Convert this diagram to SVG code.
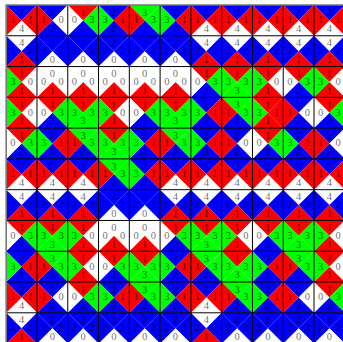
<svg xmlns="http://www.w3.org/2000/svg" xmlns:xlink="http://www.w3.org/1999/xlink" width="343" height="342" viewBox="0 0 343 342">
<style>
.c0{fill:#fff}.c1{fill:#f00}.c2{fill:#00f}.c3{fill:#0f0}
text{font-family:"Liberation Serif","DejaVu Serif",serif;font-size:10.5px;fill:#000;fill-opacity:.6;text-anchor:middle;dominant-baseline:central}
.grid line{stroke:#000;stroke-width:1}
.outer{stroke:#777;stroke-width:1.6;fill:none}
</style>
<defs>
<path id="n" d="M0 0H30.78L15.39 15.39Z"/>
<path id="e" d="M30.78 0V30.78L15.39 15.39Z"/>
<path id="s" d="M0 30.78H30.78L15.39 15.39Z"/>
<path id="w" d="M0 0V30.78L15.39 15.39Z"/>
<g id="A"><use href="#n" class="c2"/><use href="#e" class="c1"/><use href="#s" class="c0"/><use href="#w" class="c1"/></g>
<g id="B"><use href="#n" class="c2"/><use href="#e" class="c0"/><use href="#s" class="c2"/><use href="#w" class="c1"/></g>
<g id="C"><use href="#n" class="c1"/><use href="#e" class="c3"/><use href="#s" class="c2"/><use href="#w" class="c0"/></g>
<g id="D"><use href="#n" class="c2"/><use href="#e" class="c1"/><use href="#s" class="c2"/><use href="#w" class="c3"/></g>
<g id="E"><use href="#n" class="c3"/><use href="#e" class="c3"/><use href="#s" class="c2"/><use href="#w" class="c1"/></g>
<g id="F"><use href="#n" class="c0"/><use href="#e" class="c2"/><use href="#s" class="c1"/><use href="#w" class="c2"/></g>
<g id="G"><use href="#n" class="c2"/><use href="#e" class="c2"/><use href="#s" class="c0"/><use href="#w" class="c2"/></g>
<g id="H"><use href="#n" class="c1"/><use href="#e" class="c0"/><use href="#s" class="c1"/><use href="#w" class="c3"/></g>
<g id="I"><use href="#n" class="c0"/><use href="#e" class="c0"/><use href="#s" class="c1"/><use href="#w" class="c0"/></g>
<g id="J"><use href="#n" class="c1"/><use href="#e" class="c3"/><use href="#s" class="c3"/><use href="#w" class="c3"/></g>
<g id="L"><use href="#n" class="c1"/><use href="#e" class="c1"/><use href="#s" class="c1"/><use href="#w" class="c3"/></g>
</defs>
<rect width="343" height="342" fill="#fff"/>
<g id="tiles">
<g id="r0c0" transform="translate(6.2,5)"><use href="#A"/><text x="15.4" y="7.2">2</text><text x="24.1" y="14.8">1</text><text x="15.4" y="23.6">4</text><text x="6.7" y="14.8">1</text></g>
<g id="r0c1" transform="translate(36.98,5)"><use href="#B"/><text x="15.4" y="7.2">2</text><text x="24.1" y="14.8">0</text><text x="15.4" y="23.6">2</text><text x="6.7" y="14.8">1</text></g>
<g id="r0c2" transform="translate(67.76,5)"><use href="#C"/><text x="15.4" y="7.2">1</text><text x="24.1" y="14.8">3</text><text x="15.4" y="23.6">2</text><text x="6.7" y="14.8">0</text></g>
<g id="r0c3" transform="translate(98.54,5)"><use href="#D"/><text x="15.4" y="7.2">2</text><text x="24.1" y="14.8">1</text><text x="15.4" y="23.6">2</text><text x="6.7" y="14.8">3</text></g>
<g id="r0c4" transform="translate(129.32,5)"><use href="#E"/><text x="15.4" y="7.2">3</text><text x="24.1" y="14.8">3</text><text x="15.4" y="23.6">2</text><text x="6.7" y="14.8">1</text></g>
<g id="r0c5" transform="translate(160.1,5)"><use href="#D"/><text x="15.4" y="7.2">2</text><text x="24.1" y="14.8">1</text><text x="15.4" y="23.6">2</text><text x="6.7" y="14.8">3</text></g>
<g id="r0c6" transform="translate(190.88,5)"><use href="#A"/><text x="15.4" y="7.2">2</text><text x="24.1" y="14.8">1</text><text x="15.4" y="23.6">4</text><text x="6.7" y="14.8">1</text></g>
<g id="r0c7" transform="translate(221.66,5)"><use href="#A"/><text x="15.4" y="7.2">2</text><text x="24.1" y="14.8">1</text><text x="15.4" y="23.6">4</text><text x="6.7" y="14.8">1</text></g>
<g id="r0c8" transform="translate(252.44,5)"><use href="#A"/><text x="15.4" y="7.2">2</text><text x="24.1" y="14.8">1</text><text x="15.4" y="23.6">4</text><text x="6.7" y="14.8">1</text></g>
<g id="r0c9" transform="translate(283.22,5)"><use href="#A"/><text x="15.4" y="7.2">2</text><text x="24.1" y="14.8">1</text><text x="15.4" y="23.6">4</text><text x="6.7" y="14.8">1</text></g>
<g id="r0c10" transform="translate(314,5)"><use href="#A"/><text x="15.4" y="7.2">2</text><text x="24.1" y="14.8">1</text><text x="15.4" y="23.6">4</text><text x="6.7" y="14.8">1</text></g>

<g id="r1c0" transform="translate(6.2,35.78)"><use href="#F"/><text x="15.4" y="7.2">4</text><text x="24.1" y="14.8">2</text><text x="15.4" y="23.6">1</text><text x="6.7" y="14.8">2</text></g>
<g id="r1c1" transform="translate(36.98,35.78)"><use href="#G"/><text x="15.4" y="7.2">2</text><text x="24.1" y="14.8">2</text><text x="15.4" y="23.6">0</text><text x="6.7" y="14.8">2</text></g>
<g id="r1c2" transform="translate(67.76,35.78)"><use href="#G"/><text x="15.4" y="7.2">2</text><text x="24.1" y="14.8">2</text><text x="15.4" y="23.6">0</text><text x="6.7" y="14.8">2</text></g>
<g id="r1c3" transform="translate(98.54,35.78)"><use href="#G"/><text x="15.4" y="7.2">2</text><text x="24.1" y="14.8">2</text><text x="15.4" y="23.6">0</text><text x="6.7" y="14.8">2</text></g>
<g id="r1c4" transform="translate(129.32,35.78)"><use href="#G"/><text x="15.4" y="7.2">2</text><text x="24.1" y="14.8">2</text><text x="15.4" y="23.6">0</text><text x="6.7" y="14.8">2</text></g>
<g id="r1c5" transform="translate(160.1,35.78)"><use href="#G"/><text x="15.4" y="7.2">2</text><text x="24.1" y="14.8">2</text><text x="15.4" y="23.6">0</text><text x="6.7" y="14.8">2</text></g>
<g id="r1c6" transform="translate(190.88,35.78)"><use href="#F"/><text x="15.4" y="7.2">4</text><text x="24.1" y="14.8">2</text><text x="15.4" y="23.6">1</text><text x="6.7" y="14.8">2</text></g>
<g id="r1c7" transform="translate(221.66,35.78)"><use href="#F"/><text x="15.4" y="7.2">4</text><text x="24.1" y="14.8">2</text><text x="15.4" y="23.6">1</text><text x="6.7" y="14.8">2</text></g>
<g id="r1c8" transform="translate(252.44,35.78)"><use href="#F"/><text x="15.4" y="7.2">4</text><text x="24.1" y="14.8">2</text><text x="15.4" y="23.6">1</text><text x="6.7" y="14.8">2</text></g>
<g id="r1c9" transform="translate(283.22,35.78)"><use href="#F"/><text x="15.4" y="7.2">4</text><text x="24.1" y="14.8">2</text><text x="15.4" y="23.6">1</text><text x="6.7" y="14.8">2</text></g>
<g id="r1c10" transform="translate(314,35.78)"><use href="#F"/><text x="15.4" y="7.2">4</text><text x="24.1" y="14.8">2</text><text x="15.4" y="23.6">1</text><text x="6.7" y="14.8">2</text></g>

<g id="r2c0" transform="translate(6.2,66.56)"><use href="#H"/><text x="15.4" y="7.2">1</text><text x="24.1" y="14.8">0</text><text x="15.4" y="23.6">1</text><text x="6.7" y="14.8">3</text></g>
<g id="r2c1" transform="translate(36.98,66.56)"><use href="#I"/><text x="15.4" y="7.2">0</text><text x="24.1" y="14.8">0</text><text x="15.4" y="23.6">1</text><text x="6.7" y="14.8">0</text></g>
<g id="r2c2" transform="translate(67.76,66.56)"><use href="#I"/><text x="15.4" y="7.2">0</text><text x="24.1" y="14.8">0</text><text x="15.4" y="23.6">1</text><text x="6.7" y="14.8">0</text></g>
<g id="r2c3" transform="translate(98.54,66.56)"><use href="#I"/><text x="15.4" y="7.2">0</text><text x="24.1" y="14.8">0</text><text x="15.4" y="23.6">1</text><text x="6.7" y="14.8">0</text></g>
<g id="r2c4" transform="translate(129.32,66.56)"><use href="#I"/><text x="15.4" y="7.2">0</text><text x="24.1" y="14.8">0</text><text x="15.4" y="23.6">1</text><text x="6.7" y="14.8">0</text></g>
<g id="r2c5" transform="translate(160.1,66.56)"><use href="#I"/><text x="15.4" y="7.2">0</text><text x="24.1" y="14.8">0</text><text x="15.4" y="23.6">1</text><text x="6.7" y="14.8">0</text></g>
<g id="r2c6" transform="translate(190.88,66.56)"><use href="#C"/><text x="15.4" y="7.2">1</text><text x="24.1" y="14.8">3</text><text x="15.4" y="23.6">2</text><text x="6.7" y="14.8">0</text></g>
<g id="r2c7" transform="translate(221.66,66.56)"><use href="#J"/><text x="15.4" y="7.2">1</text><text x="24.1" y="14.8">3</text><text x="15.4" y="23.6">3</text><text x="6.7" y="14.8">3</text></g>
<g id="r2c8" transform="translate(252.44,66.56)"><use href="#H"/><text x="15.4" y="7.2">1</text><text x="24.1" y="14.8">0</text><text x="15.4" y="23.6">1</text><text x="6.7" y="14.8">3</text></g>
<g id="r2c9" transform="translate(283.22,66.56)"><use href="#C"/><text x="15.4" y="7.2">1</text><text x="24.1" y="14.8">3</text><text x="15.4" y="23.6">2</text><text x="6.7" y="14.8">0</text></g>
<g id="r2c10" transform="translate(314,66.56)"><use href="#H"/><text x="15.4" y="7.2">1</text><text x="24.1" y="14.8">0</text><text x="15.4" y="23.6">1</text><text x="6.7" y="14.8">3</text></g>

<g id="r3c0" transform="translate(6.2,97.34)"><use href="#H"/><text x="15.4" y="7.2">1</text><text x="24.1" y="14.8">0</text><text x="15.4" y="23.6">1</text><text x="6.7" y="14.8">3</text></g>
<g id="r3c1" transform="translate(36.98,97.34)"><use href="#C"/><text x="15.4" y="7.2">1</text><text x="24.1" y="14.8">3</text><text x="15.4" y="23.6">2</text><text x="6.7" y="14.8">0</text></g>
<g id="r3c2" transform="translate(67.76,97.34)"><use href="#J"/><text x="15.4" y="7.2">1</text><text x="24.1" y="14.8">3</text><text x="15.4" y="23.6">3</text><text x="6.7" y="14.8">3</text></g>
<g id="r3c3" transform="translate(98.54,97.34)"><use href="#H"/><text x="15.4" y="7.2">1</text><text x="24.1" y="14.8">0</text><text x="15.4" y="23.6">1</text><text x="6.7" y="14.8">3</text></g>
<g id="r3c4" transform="translate(129.32,97.34)"><use href="#C"/><text x="15.4" y="7.2">1</text><text x="24.1" y="14.8">3</text><text x="15.4" y="23.6">2</text><text x="6.7" y="14.8">0</text></g>
<g id="r3c5" transform="translate(160.1,97.34)"><use href="#J"/><text x="15.4" y="7.2">1</text><text x="24.1" y="14.8">3</text><text x="15.4" y="23.6">3</text><text x="6.7" y="14.8">3</text></g>
<g id="r3c6" transform="translate(190.88,97.34)"><use href="#D"/><text x="15.4" y="7.2">2</text><text x="24.1" y="14.8">1</text><text x="15.4" y="23.6">2</text><text x="6.7" y="14.8">3</text></g>
<g id="r3c7" transform="translate(221.66,97.34)"><use href="#E"/><text x="15.4" y="7.2">3</text><text x="24.1" y="14.8">3</text><text x="15.4" y="23.6">2</text><text x="6.7" y="14.8">1</text></g>
<g id="r3c8" transform="translate(252.44,97.34)"><use href="#L"/><text x="15.4" y="7.2">1</text><text x="24.1" y="14.8">1</text><text x="15.4" y="23.6">1</text><text x="6.7" y="14.8">3</text></g>
<g id="r3c9" transform="translate(283.22,97.34)"><use href="#B"/><text x="15.4" y="7.2">2</text><text x="24.1" y="14.8">0</text><text x="15.4" y="23.6">2</text><text x="6.7" y="14.8">1</text></g>
<g id="r3c10" transform="translate(314,97.34)"><use href="#C"/><text x="15.4" y="7.2">1</text><text x="24.1" y="14.8">3</text><text x="15.4" y="23.6">2</text><text x="6.7" y="14.8">0</text></g>

<g id="r4c0" transform="translate(6.2,128.12)"><use href="#C"/><text x="15.4" y="7.2">1</text><text x="24.1" y="14.8">3</text><text x="15.4" y="23.6">2</text><text x="6.7" y="14.8">0</text></g>
<g id="r4c1" transform="translate(36.98,128.12)"><use href="#D"/><text x="15.4" y="7.2">2</text><text x="24.1" y="14.8">1</text><text x="15.4" y="23.6">2</text><text x="6.7" y="14.8">3</text></g>
<g id="r4c2" transform="translate(67.76,128.12)"><use href="#E"/><text x="15.4" y="7.2">3</text><text x="24.1" y="14.8">3</text><text x="15.4" y="23.6">2</text><text x="6.7" y="14.8">1</text></g>
<g id="r4c3" transform="translate(98.54,128.12)"><use href="#J"/><text x="15.4" y="7.2">1</text><text x="24.1" y="14.8">3</text><text x="15.4" y="23.6">3</text><text x="6.7" y="14.8">3</text></g>
<g id="r4c4" transform="translate(129.32,128.12)"><use href="#D"/><text x="15.4" y="7.2">2</text><text x="24.1" y="14.8">1</text><text x="15.4" y="23.6">2</text><text x="6.7" y="14.8">3</text></g>
<g id="r4c5" transform="translate(160.1,128.12)"><use href="#E"/><text x="15.4" y="7.2">3</text><text x="24.1" y="14.8">3</text><text x="15.4" y="23.6">2</text><text x="6.7" y="14.8">1</text></g>
<g id="r4c6" transform="translate(190.88,128.12)"><use href="#D"/><text x="15.4" y="7.2">2</text><text x="24.1" y="14.8">1</text><text x="15.4" y="23.6">2</text><text x="6.7" y="14.8">3</text></g>
<g id="r4c7" transform="translate(221.66,128.12)"><use href="#B"/><text x="15.4" y="7.2">2</text><text x="24.1" y="14.8">0</text><text x="15.4" y="23.6">2</text><text x="6.7" y="14.8">1</text></g>
<g id="r4c8" transform="translate(252.44,128.12)"><use href="#C"/><text x="15.4" y="7.2">1</text><text x="24.1" y="14.8">3</text><text x="15.4" y="23.6">2</text><text x="6.7" y="14.8">0</text></g>
<g id="r4c9" transform="translate(283.22,128.12)"><use href="#D"/><text x="15.4" y="7.2">2</text><text x="24.1" y="14.8">1</text><text x="15.4" y="23.6">2</text><text x="6.7" y="14.8">3</text></g>
<g id="r4c10" transform="translate(314,128.12)"><use href="#B"/><text x="15.4" y="7.2">2</text><text x="24.1" y="14.8">0</text><text x="15.4" y="23.6">2</text><text x="6.7" y="14.8">1</text></g>

<g id="r5c0" transform="translate(6.2,158.9)"><use href="#A"/><text x="15.4" y="7.2">2</text><text x="24.1" y="14.8">1</text><text x="15.4" y="23.6">4</text><text x="6.7" y="14.8">1</text></g>
<g id="r5c1" transform="translate(36.98,158.9)"><use href="#A"/><text x="15.4" y="7.2">2</text><text x="24.1" y="14.8">1</text><text x="15.4" y="23.6">4</text><text x="6.7" y="14.8">1</text></g>
<g id="r5c2" transform="translate(67.76,158.9)"><use href="#A"/><text x="15.4" y="7.2">2</text><text x="24.1" y="14.8">1</text><text x="15.4" y="23.6">4</text><text x="6.7" y="14.8">1</text></g>
<g id="r5c3" transform="translate(98.54,158.9)"><use href="#E"/><text x="15.4" y="7.2">3</text><text x="24.1" y="14.8">3</text><text x="15.4" y="23.6">2</text><text x="6.7" y="14.8">1</text></g>
<g id="r5c4" transform="translate(129.32,158.9)"><use href="#D"/><text x="15.4" y="7.2">2</text><text x="24.1" y="14.8">1</text><text x="15.4" y="23.6">2</text><text x="6.7" y="14.8">3</text></g>
<g id="r5c5" transform="translate(160.1,158.9)"><use href="#A"/><text x="15.4" y="7.2">2</text><text x="24.1" y="14.8">1</text><text x="15.4" y="23.6">4</text><text x="6.7" y="14.8">1</text></g>
<g id="r5c6" transform="translate(190.88,158.9)"><use href="#A"/><text x="15.4" y="7.2">2</text><text x="24.1" y="14.8">1</text><text x="15.4" y="23.6">4</text><text x="6.7" y="14.8">1</text></g>
<g id="r5c7" transform="translate(221.66,158.9)"><use href="#A"/><text x="15.4" y="7.2">2</text><text x="24.1" y="14.8">1</text><text x="15.4" y="23.6">4</text><text x="6.7" y="14.8">1</text></g>
<g id="r5c8" transform="translate(252.44,158.9)"><use href="#A"/><text x="15.4" y="7.2">2</text><text x="24.1" y="14.8">1</text><text x="15.4" y="23.6">4</text><text x="6.7" y="14.8">1</text></g>
<g id="r5c9" transform="translate(283.22,158.9)"><use href="#A"/><text x="15.4" y="7.2">2</text><text x="24.1" y="14.8">1</text><text x="15.4" y="23.6">4</text><text x="6.7" y="14.8">1</text></g>
<g id="r5c10" transform="translate(314,158.9)"><use href="#A"/><text x="15.4" y="7.2">2</text><text x="24.1" y="14.8">1</text><text x="15.4" y="23.6">4</text><text x="6.7" y="14.8">1</text></g>

<g id="r6c0" transform="translate(6.2,189.68)"><use href="#F"/><text x="15.4" y="7.2">4</text><text x="24.1" y="14.8">2</text><text x="15.4" y="23.6">1</text><text x="6.7" y="14.8">2</text></g>
<g id="r6c1" transform="translate(36.98,189.68)"><use href="#F"/><text x="15.4" y="7.2">4</text><text x="24.1" y="14.8">2</text><text x="15.4" y="23.6">1</text><text x="6.7" y="14.8">2</text></g>
<g id="r6c2" transform="translate(67.76,189.68)"><use href="#F"/><text x="15.4" y="7.2">4</text><text x="24.1" y="14.8">2</text><text x="15.4" y="23.6">1</text><text x="6.7" y="14.8">2</text></g>
<g id="r6c3" transform="translate(98.54,189.68)"><use href="#G"/><text x="15.4" y="7.2">2</text><text x="24.1" y="14.8">2</text><text x="15.4" y="23.6">0</text><text x="6.7" y="14.8">2</text></g>
<g id="r6c4" transform="translate(129.32,189.68)"><use href="#G"/><text x="15.4" y="7.2">2</text><text x="24.1" y="14.8">2</text><text x="15.4" y="23.6">0</text><text x="6.7" y="14.8">2</text></g>
<g id="r6c5" transform="translate(160.1,189.68)"><use href="#F"/><text x="15.4" y="7.2">4</text><text x="24.1" y="14.8">2</text><text x="15.4" y="23.6">1</text><text x="6.7" y="14.8">2</text></g>
<g id="r6c6" transform="translate(190.88,189.68)"><use href="#F"/><text x="15.4" y="7.2">4</text><text x="24.1" y="14.8">2</text><text x="15.4" y="23.6">1</text><text x="6.7" y="14.8">2</text></g>
<g id="r6c7" transform="translate(221.66,189.68)"><use href="#F"/><text x="15.4" y="7.2">4</text><text x="24.1" y="14.8">2</text><text x="15.4" y="23.6">1</text><text x="6.7" y="14.8">2</text></g>
<g id="r6c8" transform="translate(252.44,189.68)"><use href="#F"/><text x="15.4" y="7.2">4</text><text x="24.1" y="14.8">2</text><text x="15.4" y="23.6">1</text><text x="6.7" y="14.8">2</text></g>
<g id="r6c9" transform="translate(283.22,189.68)"><use href="#F"/><text x="15.4" y="7.2">4</text><text x="24.1" y="14.8">2</text><text x="15.4" y="23.6">1</text><text x="6.7" y="14.8">2</text></g>
<g id="r6c10" transform="translate(314,189.68)"><use href="#F"/><text x="15.4" y="7.2">4</text><text x="24.1" y="14.8">2</text><text x="15.4" y="23.6">1</text><text x="6.7" y="14.8">2</text></g>

<g id="r7c0" transform="translate(6.2,220.46)"><use href="#C"/><text x="15.4" y="7.2">1</text><text x="24.1" y="14.8">3</text><text x="15.4" y="23.6">2</text><text x="6.7" y="14.8">0</text></g>
<g id="r7c1" transform="translate(36.98,220.46)"><use href="#J"/><text x="15.4" y="7.2">1</text><text x="24.1" y="14.8">3</text><text x="15.4" y="23.6">3</text><text x="6.7" y="14.8">3</text></g>
<g id="r7c2" transform="translate(67.76,220.46)"><use href="#H"/><text x="15.4" y="7.2">1</text><text x="24.1" y="14.8">0</text><text x="15.4" y="23.6">1</text><text x="6.7" y="14.8">3</text></g>
<g id="r7c3" transform="translate(98.54,220.46)"><use href="#I"/><text x="15.4" y="7.2">0</text><text x="24.1" y="14.8">0</text><text x="15.4" y="23.6">1</text><text x="6.7" y="14.8">0</text></g>
<g id="r7c4" transform="translate(129.32,220.46)"><use href="#I"/><text x="15.4" y="7.2">0</text><text x="24.1" y="14.8">0</text><text x="15.4" y="23.6">1</text><text x="6.7" y="14.8">0</text></g>
<g id="r7c5" transform="translate(160.1,220.46)"><use href="#C"/><text x="15.4" y="7.2">1</text><text x="24.1" y="14.8">3</text><text x="15.4" y="23.6">2</text><text x="6.7" y="14.8">0</text></g>
<g id="r7c6" transform="translate(190.88,220.46)"><use href="#J"/><text x="15.4" y="7.2">1</text><text x="24.1" y="14.8">3</text><text x="15.4" y="23.6">3</text><text x="6.7" y="14.8">3</text></g>
<g id="r7c7" transform="translate(221.66,220.46)"><use href="#H"/><text x="15.4" y="7.2">1</text><text x="24.1" y="14.8">0</text><text x="15.4" y="23.6">1</text><text x="6.7" y="14.8">3</text></g>
<g id="r7c8" transform="translate(252.44,220.46)"><use href="#C"/><text x="15.4" y="7.2">1</text><text x="24.1" y="14.8">3</text><text x="15.4" y="23.6">2</text><text x="6.7" y="14.8">0</text></g>
<g id="r7c9" transform="translate(283.22,220.46)"><use href="#J"/><text x="15.4" y="7.2">1</text><text x="24.1" y="14.8">3</text><text x="15.4" y="23.6">3</text><text x="6.7" y="14.8">3</text></g>
<g id="r7c10" transform="translate(314,220.46)"><use href="#H"/><text x="15.4" y="7.2">1</text><text x="24.1" y="14.8">0</text><text x="15.4" y="23.6">1</text><text x="6.7" y="14.8">3</text></g>

<g id="r8c0" transform="translate(6.2,251.24)"><use href="#D"/><text x="15.4" y="7.2">2</text><text x="24.1" y="14.8">1</text><text x="15.4" y="23.6">2</text><text x="6.7" y="14.8">3</text></g>
<g id="r8c1" transform="translate(36.98,251.24)"><use href="#E"/><text x="15.4" y="7.2">3</text><text x="24.1" y="14.8">3</text><text x="15.4" y="23.6">2</text><text x="6.7" y="14.8">1</text></g>
<g id="r8c2" transform="translate(67.76,251.24)"><use href="#H"/><text x="15.4" y="7.2">1</text><text x="24.1" y="14.8">0</text><text x="15.4" y="23.6">1</text><text x="6.7" y="14.8">3</text></g>
<g id="r8c3" transform="translate(98.54,251.24)"><use href="#C"/><text x="15.4" y="7.2">1</text><text x="24.1" y="14.8">3</text><text x="15.4" y="23.6">2</text><text x="6.7" y="14.8">0</text></g>
<g id="r8c4" transform="translate(129.32,251.24)"><use href="#J"/><text x="15.4" y="7.2">1</text><text x="24.1" y="14.8">3</text><text x="15.4" y="23.6">3</text><text x="6.7" y="14.8">3</text></g>
<g id="r8c5" transform="translate(160.1,251.24)"><use href="#D"/><text x="15.4" y="7.2">2</text><text x="24.1" y="14.8">1</text><text x="15.4" y="23.6">2</text><text x="6.7" y="14.8">3</text></g>
<g id="r8c6" transform="translate(190.88,251.24)"><use href="#E"/><text x="15.4" y="7.2">3</text><text x="24.1" y="14.8">3</text><text x="15.4" y="23.6">2</text><text x="6.7" y="14.8">1</text></g>
<g id="r8c7" transform="translate(221.66,251.24)"><use href="#J"/><text x="15.4" y="7.2">1</text><text x="24.1" y="14.8">3</text><text x="15.4" y="23.6">3</text><text x="6.7" y="14.8">3</text></g>
<g id="r8c8" transform="translate(252.44,251.24)"><use href="#D"/><text x="15.4" y="7.2">2</text><text x="24.1" y="14.8">1</text><text x="15.4" y="23.6">2</text><text x="6.7" y="14.8">3</text></g>
<g id="r8c9" transform="translate(283.22,251.24)"><use href="#E"/><text x="15.4" y="7.2">3</text><text x="24.1" y="14.8">3</text><text x="15.4" y="23.6">2</text><text x="6.7" y="14.8">1</text></g>
<g id="r8c10" transform="translate(314,251.24)"><use href="#H"/><text x="15.4" y="7.2">1</text><text x="24.1" y="14.8">0</text><text x="15.4" y="23.6">1</text><text x="6.7" y="14.8">3</text></g>

<g id="r9c0" transform="translate(6.2,282.02)"><use href="#A"/><text x="15.4" y="7.2">2</text><text x="24.1" y="14.8">1</text><text x="15.4" y="23.6">4</text><text x="6.7" y="14.8">1</text></g>
<g id="r9c1" transform="translate(36.98,282.02)"><use href="#B"/><text x="15.4" y="7.2">2</text><text x="24.1" y="14.8">0</text><text x="15.4" y="23.6">2</text><text x="6.7" y="14.8">1</text></g>
<g id="r9c2" transform="translate(67.76,282.02)"><use href="#C"/><text x="15.4" y="7.2">1</text><text x="24.1" y="14.8">3</text><text x="15.4" y="23.6">2</text><text x="6.7" y="14.8">0</text></g>
<g id="r9c3" transform="translate(98.54,282.02)"><use href="#D"/><text x="15.4" y="7.2">2</text><text x="24.1" y="14.8">1</text><text x="15.4" y="23.6">2</text><text x="6.7" y="14.8">3</text></g>
<g id="r9c4" transform="translate(129.32,282.02)"><use href="#E"/><text x="15.4" y="7.2">3</text><text x="24.1" y="14.8">3</text><text x="15.4" y="23.6">2</text><text x="6.7" y="14.8">1</text></g>
<g id="r9c5" transform="translate(160.1,282.02)"><use href="#D"/><text x="15.4" y="7.2">2</text><text x="24.1" y="14.8">1</text><text x="15.4" y="23.6">2</text><text x="6.7" y="14.8">3</text></g>
<g id="r9c6" transform="translate(190.88,282.02)"><use href="#A"/><text x="15.4" y="7.2">2</text><text x="24.1" y="14.8">1</text><text x="15.4" y="23.6">4</text><text x="6.7" y="14.8">1</text></g>
<g id="r9c7" transform="translate(221.66,282.02)"><use href="#E"/><text x="15.4" y="7.2">3</text><text x="24.1" y="14.8">3</text><text x="15.4" y="23.6">2</text><text x="6.7" y="14.8">1</text></g>
<g id="r9c8" transform="translate(252.44,282.02)"><use href="#D"/><text x="15.4" y="7.2">2</text><text x="24.1" y="14.8">1</text><text x="15.4" y="23.6">2</text><text x="6.7" y="14.8">3</text></g>
<g id="r9c9" transform="translate(283.22,282.02)"><use href="#B"/><text x="15.4" y="7.2">2</text><text x="24.1" y="14.8">0</text><text x="15.4" y="23.6">2</text><text x="6.7" y="14.8">1</text></g>
<g id="r9c10" transform="translate(314,282.02)"><use href="#C"/><text x="15.4" y="7.2">1</text><text x="24.1" y="14.8">3</text><text x="15.4" y="23.6">2</text><text x="6.7" y="14.8">0</text></g>

<g id="r10c0" transform="translate(6.2,312.8)"><use href="#F"/><text x="15.4" y="7.2">4</text><text x="24.1" y="14.8">2</text><text x="15.4" y="23.6">1</text><text x="6.7" y="14.8">2</text></g>
<g id="r10c1" transform="translate(36.98,312.8)"><use href="#G"/><text x="15.4" y="7.2">2</text><text x="24.1" y="14.8">2</text><text x="15.4" y="23.6">0</text><text x="6.7" y="14.8">2</text></g>
<g id="r10c2" transform="translate(67.76,312.8)"><use href="#G"/><text x="15.4" y="7.2">2</text><text x="24.1" y="14.8">2</text><text x="15.4" y="23.6">0</text><text x="6.7" y="14.8">2</text></g>
<g id="r10c3" transform="translate(98.54,312.8)"><use href="#G"/><text x="15.4" y="7.2">2</text><text x="24.1" y="14.8">2</text><text x="15.4" y="23.6">0</text><text x="6.7" y="14.8">2</text></g>
<g id="r10c4" transform="translate(129.32,312.8)"><use href="#G"/><text x="15.4" y="7.2">2</text><text x="24.1" y="14.8">2</text><text x="15.4" y="23.6">0</text><text x="6.7" y="14.8">2</text></g>
<g id="r10c5" transform="translate(160.1,312.8)"><use href="#G"/><text x="15.4" y="7.2">2</text><text x="24.1" y="14.8">2</text><text x="15.4" y="23.6">0</text><text x="6.7" y="14.8">2</text></g>
<g id="r10c6" transform="translate(190.88,312.8)"><use href="#F"/><text x="15.4" y="7.2">4</text><text x="24.1" y="14.8">2</text><text x="15.4" y="23.6">1</text><text x="6.7" y="14.8">2</text></g>
<g id="r10c7" transform="translate(221.66,312.8)"><use href="#G"/><text x="15.4" y="7.2">2</text><text x="24.1" y="14.8">2</text><text x="15.4" y="23.6">0</text><text x="6.7" y="14.8">2</text></g>
<g id="r10c8" transform="translate(252.44,312.8)"><use href="#G"/><text x="15.4" y="7.2">2</text><text x="24.1" y="14.8">2</text><text x="15.4" y="23.6">0</text><text x="6.7" y="14.8">2</text></g>
<g id="r10c9" transform="translate(283.22,312.8)"><use href="#G"/><text x="15.4" y="7.2">2</text><text x="24.1" y="14.8">2</text><text x="15.4" y="23.6">0</text><text x="6.7" y="14.8">2</text></g>
<g id="r10c10" transform="translate(314,312.8)"><use href="#G"/><text x="15.4" y="7.2">2</text><text x="24.1" y="14.8">2</text><text x="15.4" y="23.6">0</text><text x="6.7" y="14.8">2</text></g>
</g>
<g id="connectors" class="grid">
<line x1="36.98" y1="5" x2="36.98" y2="342"/>
<line x1="67.76" y1="5" x2="67.76" y2="342"/>
<line x1="98.54" y1="5" x2="98.54" y2="342"/>
<line x1="129.32" y1="5" x2="129.32" y2="342"/>
<line x1="160.1" y1="5" x2="160.1" y2="342"/>
<line x1="190.88" y1="5" x2="190.88" y2="342"/>
<line x1="221.66" y1="5" x2="221.66" y2="342"/>
<line x1="252.44" y1="5" x2="252.44" y2="342"/>
<line x1="283.22" y1="5" x2="283.22" y2="342"/>
<line x1="314" y1="5" x2="314" y2="342"/>
<line x1="6.2" y1="35.78" x2="343" y2="35.78"/>
<line x1="6.2" y1="66.56" x2="343" y2="66.56"/>
<line x1="6.2" y1="97.34" x2="343" y2="97.34"/>
<line x1="6.2" y1="128.12" x2="343" y2="128.12"/>
<line x1="6.2" y1="158.9" x2="343" y2="158.9"/>
<line x1="6.2" y1="189.68" x2="343" y2="189.68"/>
<line x1="6.2" y1="220.46" x2="343" y2="220.46"/>
<line x1="6.2" y1="251.24" x2="343" y2="251.24"/>
<line x1="6.2" y1="282.02" x2="343" y2="282.02"/>
<line x1="6.2" y1="312.8" x2="343" y2="312.8"/>
<path class="outer" d="M6.2 342V5H343"/>
</g>
</svg>
